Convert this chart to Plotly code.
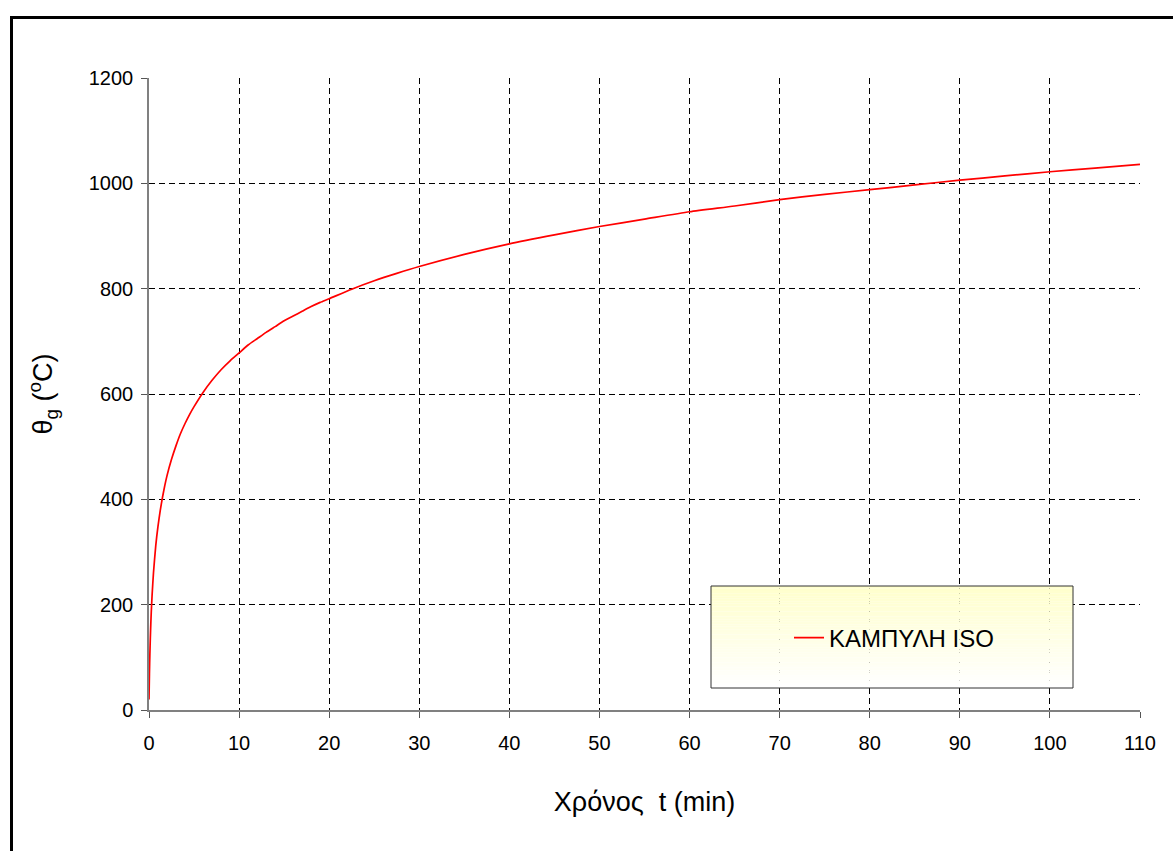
import plotly.graph_objects as go

# ISO fire curve: time (min) and gas temperature (°C)
time_min = [0, 0.05, 0.1, 0.15, 0.2, 0.25, 0.35, 0.5, 0.75, 1, 1.25, 1.5, 1.75, 2, 2.5,
            3, 3.5, 4, 4.5, 5, 6, 7, 8, 9, 10, 11, 12, 13, 14, 15, 16, 17, 18, 19, 20,
            22.5, 25, 27.5, 30, 35, 40, 45, 50, 55, 60, 65, 70, 75, 80, 85, 90, 95,
            100, 105, 110]
temp_c = [20, 70, 108, 138, 163, 185, 220, 261, 312, 349, 379, 404, 426, 445, 476,
          502, 525, 544, 561, 576, 603, 626, 646, 663, 678, 693, 705, 717, 728, 739,
          748, 757, 766, 774, 781, 799, 815, 829, 842, 865, 885, 902, 918, 932, 946,
          957, 969, 979, 988, 997, 1006, 1014, 1022, 1029, 1036]

x_ticks = list(range(0, 111, 10))
y_ticks = list(range(0, 1201, 200))

W, H = 1173, 851
ml, mr, mt, mb = 149, 33, 78, 141
pw, ph = W - ml - mr, H - mt - mb


def px_x(p):
    return (p - ml) / pw


def px_y(p):
    return (H - mb - p) / ph


FONT = "Liberation Sans, Arial"

fig = go.Figure()
fig.add_trace(go.Scatter(
    x=time_min, y=temp_c, mode="lines", name="ΚΑΜΠΥΛΗ ISO",
    line=dict(color="#FF0000", width=1.7, shape="spline", smoothing=0.6, simplify=False),
))

shapes = []
# legend panel with a pale-yellow to white vertical gradient
box_x0, box_x1 = px_x(711), px_x(1073)
top_px, bot_px = 586, 688
bands = 40
for i in range(bands):
    y0p = top_px + (bot_px - top_px) * i / bands
    y1p = top_px + (bot_px - top_px) * (i + 1) / bands
    f = i / (bands - 1)
    b = int(round(204 + (255 - 204) * f))
    shapes.append(dict(type="rect", xref="paper", yref="paper", layer="above",
                       x0=box_x0, x1=box_x1, y0=px_y(y1p), y1=px_y(y0p),
                       fillcolor=f"rgb(255,255,{b})", line=dict(width=0)))
shapes.append(dict(type="rect", xref="paper", yref="paper", layer="above",
                   x0=box_x0, x1=box_x1, y0=px_y(bot_px), y1=px_y(top_px),
                   fillcolor="rgba(0,0,0,0)", line=dict(color="#333333", width=1)))
# outer frame
shapes.append(dict(type="rect", xref="paper", yref="paper", layer="above",
                   x0=px_x(11.5), x1=px_x(1190), y0=px_y(870), y1=px_y(17.5),
                   fillcolor="rgba(0,0,0,0)", line=dict(color="#000000", width=3)))

axis_common = dict(
    showgrid=True, gridcolor="#000000", gridwidth=1, griddash="6px,4px",
    showline=True, linecolor="#808080", linewidth=1.5,
    ticks="outside", ticklen=6, tickcolor="#555555", tickwidth=1,
    zeroline=False, tickfont=dict(family=FONT, size=20, color="#000000"),
)

fig.update_layout(
    width=W, height=H,
    margin=dict(l=ml, r=mr, t=mt, b=mb),
    paper_bgcolor="#FFFFFF", plot_bgcolor="#FFFFFF",
    font=dict(family=FONT, color="#000000"),
    xaxis=dict(range=[0, 110], tickvals=x_ticks, ticklabelstandoff=8,
               title=dict(text="Χρόνος&nbsp; t (min)", font=dict(size=27), standoff=39),
               **axis_common),
    yaxis=dict(range=[0, 1200], tickvals=y_ticks, ticklabelstandoff=4,
               title=dict(text="θ<sub>g</sub> (<sup>o</sup>C)", font=dict(size=27), standoff=28),
               **axis_common),
    showlegend=True,
    legend=dict(x=px_x(789), y=px_y(638), xanchor="left", yanchor="middle",
                bgcolor="rgba(0,0,0,0)", borderwidth=0,
                font=dict(family=FONT, size=24, color="#000000"),
                itemwidth=30),
    shapes=shapes,
)

fig.write_html("out.html")
